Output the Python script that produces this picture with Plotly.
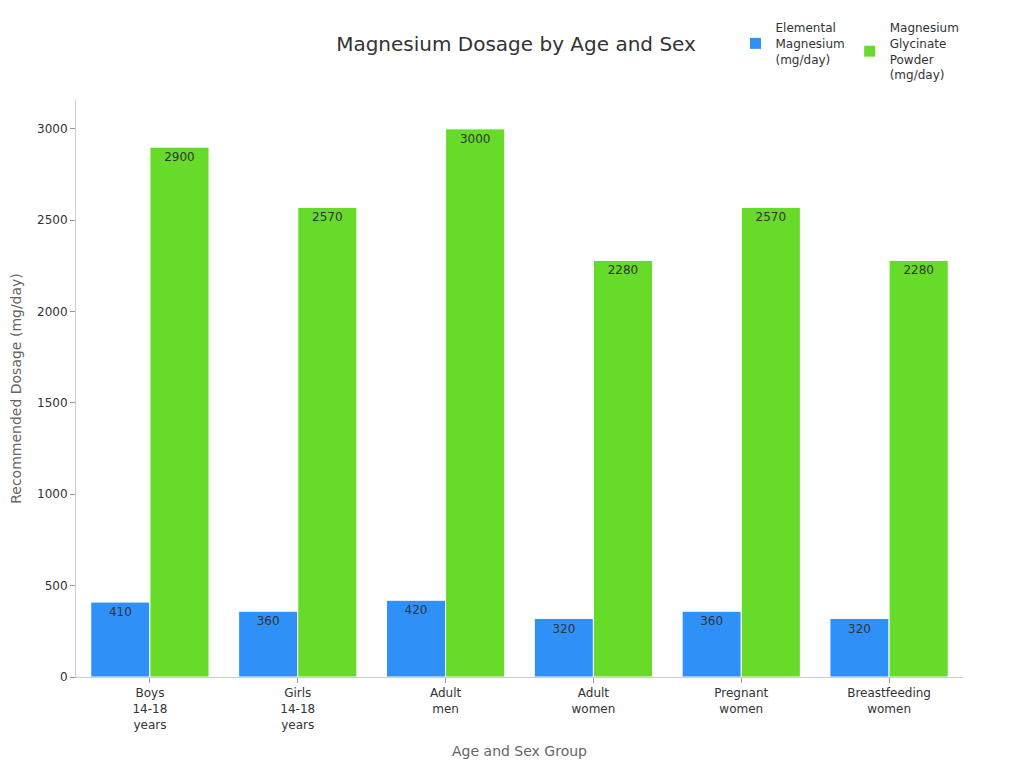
import plotly.graph_objects as go

groups = ["Boys<br>14-18<br>years", "Girls<br>14-18<br>years", "Adult<br>men",
          "Adult<br>women", "Pregnant<br>women", "Breastfeeding<br>women"]
elemental = [410, 360, 420, 320, 360, 320]
glycinate = [2900, 2570, 3000, 2280, 2570, 2280]

fig = go.Figure()
fig.add_trace(go.Bar(x=groups, y=elemental, name="Elemental<br>Magnesium<br>(mg/day)",
                     marker=dict(color="#2f91f7", line=dict(color="white", width=1)),
                     text=elemental, textposition="inside", insidetextanchor="end",
                     textfont=dict(color="#333333", size=12)))
fig.add_trace(go.Bar(x=groups, y=glycinate, name="Magnesium<br>Glycinate<br>Powder<br>(mg/day)",
                     marker=dict(color="#67db29", line=dict(color="white", width=1)),
                     text=glycinate, textposition="inside", insidetextanchor="end",
                     textfont=dict(color="#333333", size=12)))

# page body adds 8px offset, so figure is drawn 8px smaller with shifted margins
fig.update_layout(
    width=1016, height=760,
    font=dict(family="DejaVu Sans", size=12, color="#333333"),
    title=dict(text="Magnesium Dosage by Age and Sex", x=0.5, xanchor="center",
               y=0.9526, yanchor="middle", font=dict(size=20, color="#333333")),
    plot_bgcolor="white", paper_bgcolor="white",
    barmode="group", bargap=0.2, bargroupgap=0,
    margin=dict(l=68, r=61, t=92, b=91, autoexpand=False),
    legend=dict(orientation="h", x=0.7435, y=1.150, xanchor="left", yanchor="top",
                font=dict(size=12)),
    uniformtext=dict(mode="show", minsize=12),
)
fig.update_xaxes(title=dict(text="Age and Sex Group", font=dict(size=14, color="#666666")),
                 showline=True, linecolor="#cccccc", ticks="outside", tickcolor="#999999",
                 ticklen=5, showgrid=False, automargin=False)
fig.update_yaxes(title=dict(text="Recommended Dosage (mg/day)", font=dict(size=14, color="#666666")),
                 showline=True, linecolor="#cccccc", ticks="outside", tickcolor="#999999",
                 ticklen=5, showgrid=False, range=[0, 3158], dtick=500, zeroline=False,
                 automargin=False)

fig.write_html("out.html")
